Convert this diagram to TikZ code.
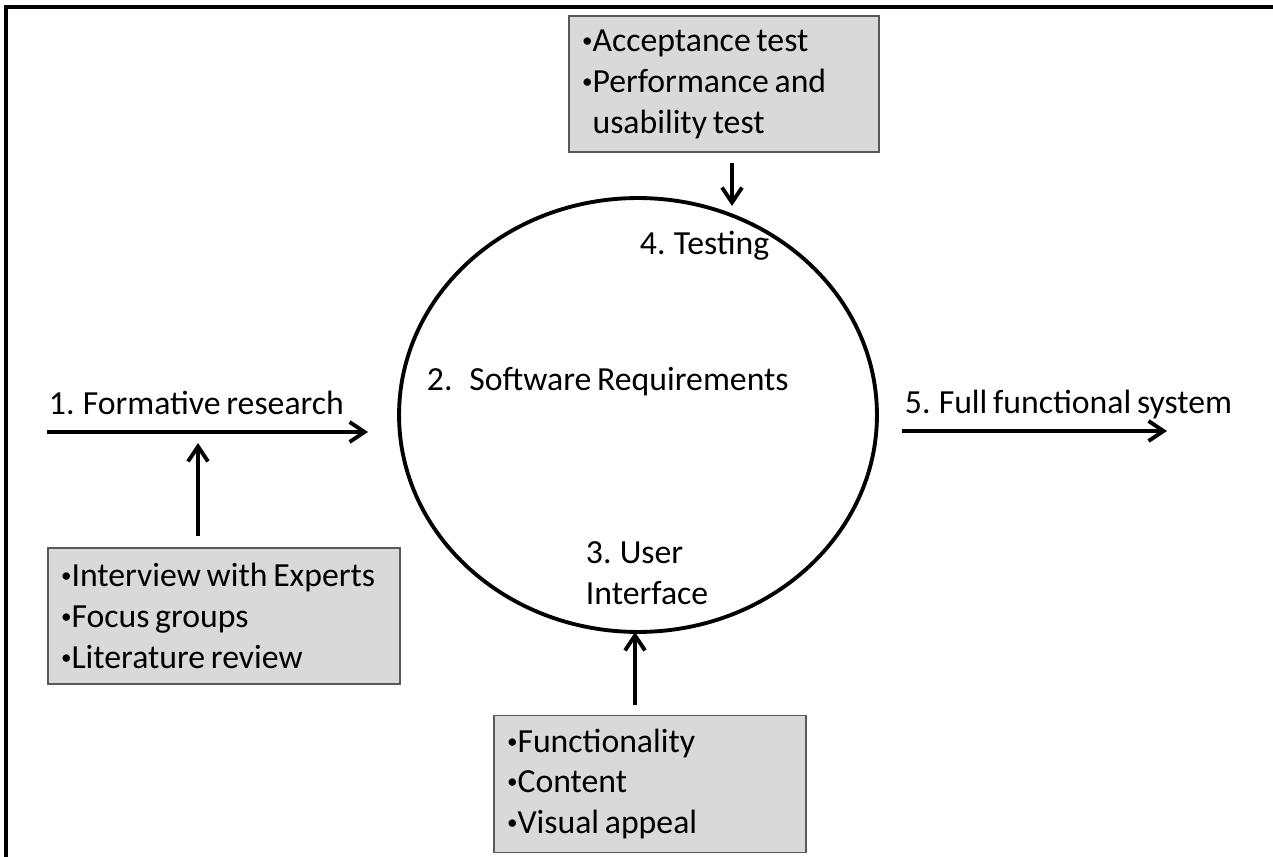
\documentclass[tikz,border=0pt]{standalone}
\usepackage{fontspec}
\setmainfont{Carlito}[WordSpace=0.75]
\usepackage{tikz}
\usetikzlibrary{positioning,shapes.geometric,arrows.meta}
\newcommand{\bul}{\raisebox{0.12em}{\fontsize{12}{12}\selectfont•}}

\begin{document}
\begin{tikzpicture}[x=0.02cm, y=-0.02cm, line width=2.2pt, >={Straight Barb[length=3mm,width=4mm]},
    font=\fontsize{19.2}{23.3}\selectfont,
    box/.style = {draw=black!65, line width=0.8pt, fill=gray!30, inner sep=0.26cm, minimum height=2.72cm, align=flush left},
    lbl/.style = {anchor=west, inner sep=0pt, align=flush left}]
            \useasboundingbox (0,0) rectangle (1273,857);
            \draw[line width=2pt] (6,857) -- (6,7) -- (1273,7);

            \node[draw, ellipse, minimum width=9.56cm, minimum height=8.68cm, inner sep=0pt] (cyc) at (638,415) {};
            \node[lbl] (test) at (638,246) {4. Testing};
            \node[lbl] (req) at (425,382) {2.\hspace{0.5em}Software Requirements};
            \node[lbl] (ui) at (584,573) {3. User\\Interface};

            \node[lbl] (form) at (47,403) {1. Formative research};
            \node[lbl] (full) at (903,405) {5. Full functional system};

            \node[box, text width=5.68cm] (tbox) at (724,84) {\bul Acceptance test\\\bul Performance and\\\phantom{\bul}usability test};
            \node[box, text width=6.52cm] (lbox) at (224,616) {\bul Interview with Experts\\\bul Focus groups\\\bul Literature review};
            \node[box, text width=5.72cm] (bbox) at (650,784) {\bul Functionality\\\bul Content\\\bul Visual appeal};

            \coordinate (in1) at (47,432);
            \coordinate (in2) at (368,432);
            \coordinate (up1) at (198,443);
            \coordinate (dn1) at (732,206);
            \coordinate (up2) at (635,632);
            \coordinate (out1) at (902,431);
            \coordinate (out2) at (1167,431);

            \draw[->] (in1) -- (in2);
            \draw[->, shorten <=0.22cm] (lbox.north -| up1) -- (up1);
            \draw[->, shorten <=0.2cm] (tbox.south -| dn1) -- (dn1);
            \draw[->, shorten <=0.2cm] (bbox.north -| up2) -- (up2);
            \draw[->] (out1) -- (out2);
        \end{tikzpicture}
\end{document}
